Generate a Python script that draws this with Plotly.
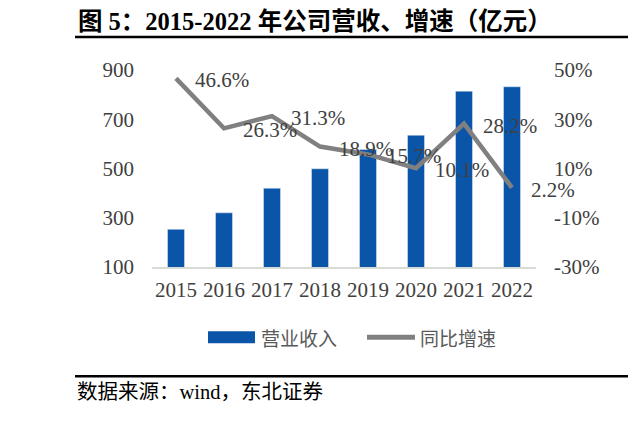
import plotly.graph_objects as go

years = ["2015", "2016", "2017", "2018", "2019", "2020", "2021", "2022"]
revenue = [253, 320, 420, 499, 577, 635, 814, 832]
growth = [46.6, 26.3, 31.3, 18.9, 15.7, 10.1, 28.2, 2.2]
growth_labels = [f"{g}%" for g in growth]
left_ticks = [100, 300, 500, 700, 900]
right_ticks = [-30, -10, 10, 30, 50]
right_tick_text = ["-30%", "-10%", "10%", "30%", "50%"]

title_text = "图 5：2015-2022 年公司营收、增速（亿元）"
source_text = "数据来源：wind，东北证券"
legend_names = ["营业收入", "同比增速"]

# page body has an 8px default margin: compensate
OFF = 8
W, H = 638 - OFF, 424 - OFF
PL, PT, PR, PB = 152, 70, 536, 267.5          # plot box in screen pixels
PW, PH = PR - PL, PB - PT
L, T = PL - OFF, PT - OFF
R, B = W - (PR - OFF), H - (PB - OFF)

def px(xp):
    return (xp - PL) / PW

def py(yp):
    return (PB - yp) / PH

BAR_COLOR = "#0B55A8"
LINE_COLOR = "#808080"
TEXT_COLOR = "#404040"
SERIF = "Liberation Serif, Times New Roman, Noto Sans CJK SC"

fig = go.Figure()
fig.add_trace(go.Bar(x=years, y=revenue, marker=dict(color=BAR_COLOR), name=legend_names[0],
                     showlegend=False))
fig.add_trace(go.Scatter(x=years, y=growth, yaxis="y2", mode="lines", name=legend_names[1],
                         line=dict(color=LINE_COLOR, width=4.5), showlegend=False))

annotations = []
for i, (g, lab) in enumerate(zip(growth, growth_labels)):
    annotations.append(dict(x=i, y=g, xref="x", yref="y2", text=lab, showarrow=False,
                            xanchor="left", yanchor="middle", xshift=17, yshift=-2,
                            font=dict(family=SERIF, size=21, color=TEXT_COLOR)))

# title
annotations.append(dict(x=px(76), y=py(21), xref="paper", yref="paper", text=title_text,
                        showarrow=False, xanchor="left", yanchor="middle",
                        font=dict(family="Liberation Serif, Noto Sans CJK SC", size=24.5,
                                  color="#000000", weight="bold")))
# source
annotations.append(dict(x=px(75), y=py(393), xref="paper", yref="paper", text=source_text,
                        showarrow=False, xanchor="left", yanchor="middle",
                        font=dict(family=SERIF, size=20.5, color="#000000")))
# legend texts
annotations.append(dict(x=px(259), y=py(338), xref="paper", yref="paper", text=legend_names[0],
                        showarrow=False, xanchor="left", yanchor="middle",
                        font=dict(family="Noto Sans CJK SC", size=19, color="#595959")))
annotations.append(dict(x=px(418), y=py(338), xref="paper", yref="paper", text=legend_names[1],
                        showarrow=False, xanchor="left", yanchor="middle",
                        font=dict(family="Noto Sans CJK SC", size=19, color="#595959")))

shapes = [
    dict(type="line", xref="paper", yref="paper", x0=px(75), x1=px(628), y0=py(37), y1=py(37),
         line=dict(color="#000000", width=2.5)),
    dict(type="line", xref="paper", yref="paper", x0=px(75), x1=px(628), y0=py(377), y1=py(377),
         line=dict(color="#000000", width=2.5)),
    dict(type="rect", xref="paper", yref="paper", x0=px(208), x1=px(255), y0=py(344), y1=py(332),
         fillcolor=BAR_COLOR, line=dict(width=0)),
    dict(type="line", xref="paper", yref="paper", x0=px(367), x1=px(415), y0=py(338), y1=py(338),
         line=dict(color=LINE_COLOR, width=5)),
]

fig.update_layout(
    width=W, height=H,
    margin=dict(l=L, r=R, t=T, b=B, autoexpand=False),
    paper_bgcolor="white", plot_bgcolor="white",
    bargap=0.646,
    showlegend=False,
    xaxis=dict(type="category", categoryorder="array", categoryarray=years,
               range=[-0.5, len(years) - 0.5], autorange=False,
               showgrid=False, showline=True, linecolor="#D9D9D9", linewidth=1.5,
               ticks="", tickfont=dict(family=SERIF, size=21, color=TEXT_COLOR),
               ticklabelstandoff=3),
    yaxis=dict(range=[100, 900], tickvals=left_ticks, showgrid=False, zeroline=False,
               showline=False, ticks="", tickfont=dict(family=SERIF, size=21, color=TEXT_COLOR),
               ticklabelstandoff=17),
    yaxis2=dict(range=[-30, 50], tickvals=right_ticks, ticktext=right_tick_text,
                overlaying="y", side="right",
                showgrid=False, zeroline=False, showline=False, ticks="",
                tickfont=dict(family=SERIF, size=21, color=TEXT_COLOR), ticklabelstandoff=17),
    annotations=annotations,
    shapes=shapes,
)

fig.write_html("out.html")
